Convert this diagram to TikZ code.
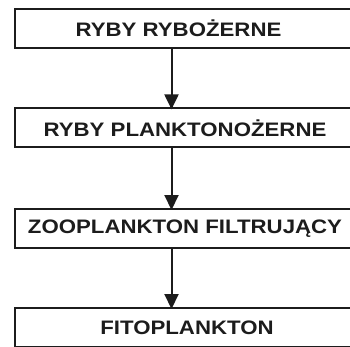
\documentclass[tikz,border=0pt]{standalone}
\usepackage{fontspec}
\usetikzlibrary{arrows.meta}
\newfontfamily\labfont[FakeStretch=1.14]{Liberation Sans}
\definecolor{ink}{HTML}{1C1C1C}
\begin{document}
\begin{tikzpicture}[x=1pt,y=1pt,
  box/.style={rectangle, minimum width=340pt, minimum height=39pt, inner sep=0pt, outer sep=0pt},
  frame/.style={draw=ink, line width=2pt, line join=miter},
  lab/.style={text=ink, font=\labfont\bfseries\fontsize{19.5}{22}\selectfont, inner sep=0pt},
  arr/.style={draw=ink, line width=2pt, -{Triangle[width=14pt,length=15pt]}, shorten >=-1pt}]
\useasboundingbox (0,0) rectangle (350,-346);
\clip (0,0) rectangle (350,-346);
\fill[white] (0,0) rectangle (350,-346);

% levels of the food chain, top to bottom; the frames run off the right edge
\node[box] (b1) at (185,-28.2) {};
\node[box] (b2) at (185,-127.9) {};
\node[box] (b3) at (185,-228.5) {};
\node[box] (b4) at (185,-327.5) {};
\foreach \b in {b1,b2,b3,b4}
  \draw[frame] (\b.north east) -- (\b.north west) -- (\b.south west) -- (\b.south east);

\node[lab] (t1) at (178.5,-28.2) {RYBY RYBOŻERNE};
\node[lab] (t2) at (185,-127.9) {RYBY PLANKTONOŻERNE};
\node[lab] (t3) at (185,-228.5) {ZOOPLANKTON FILTRUJĄCY};
\node[lab] (t4) at (187,-327.5) {FITOPLANKTON};

% common vertical axis of the arrows
\coordinate (ax) at (171.5,0);
\draw[arr] (b1.south -| ax) -- (b2.north -| ax);
\draw[arr] (b2.south -| ax) -- (b3.north -| ax);
\draw[arr] (b3.south -| ax) -- (b4.north -| ax);
\end{tikzpicture}
\end{document}
